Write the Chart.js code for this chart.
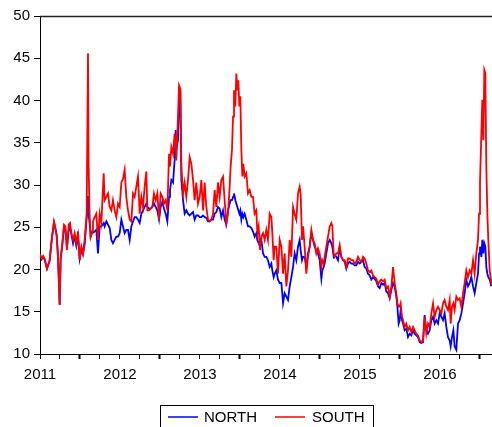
<!DOCTYPE html>
<html><head><meta charset="utf-8">
<script src="https://cdn.jsdelivr.net/npm/chart.js@4.4.1/dist/chart.umd.min.js"></script>
<style>html,body{margin:0;padding:0;background:#fff;overflow:hidden}#wrap{width:492px;height:427px;position:relative}</style>
</head><body><div id="wrap"><canvas id="c" width="492" height="427"></canvas></div>
<script>
const seriesNames = ['NORTH', 'SOUTH'];
const yTicks = [10, 15, 20, 25, 30, 35, 40, 45, 50];
const yearLabels = [2011, 2012, 2013, 2014, 2015, 2016];

const dates = [
2011.000,2011.020,2011.040,2011.060,2011.087,2011.120,2011.150,2011.175,2011.190,2011.208,
2011.225,2011.246,2011.258,2011.275,2011.300,2011.317,2011.337,2011.358,2011.375,2011.392,
2011.413,2011.433,2011.454,2011.475,2011.496,2011.517,2011.537,2011.558,2011.583,2011.600,
2011.608,2011.620,2011.633,2011.650,2011.662,2011.683,2011.704,2011.725,2011.746,2011.767,
2011.796,2011.808,2011.829,2011.850,2011.871,2011.892,2011.912,2011.933,2011.954,2011.975,
2011.996,2012.017,2012.037,2012.058,2012.079,
2012.100,2012.121,2012.142,2012.163,2012.183,2012.204,2012.225,2012.246,2012.267,2012.288,
2012.308,2012.329,2012.342,2012.363,2012.383,2012.404,2012.425,2012.446,2012.467,2012.488,
2012.508,2012.529,2012.550,2012.571,2012.592,2012.613,2012.625,2012.642,2012.663,2012.683,
2012.696,2012.704,2012.725,2012.738,2012.754,2012.767,2012.788,2012.808,2012.829,2012.850,
2012.871,2012.892,2012.913,2012.933,2012.954,2012.975,2012.996,2013.017,2013.038,2013.058,
2013.079,2013.100,2013.121,2013.142,2013.163,2013.183,2013.204,
2013.225,2013.246,2013.267,2013.288,2013.308,2013.329,2013.350,2013.371,2013.383,2013.400,
2013.413,2013.425,2013.442,2013.454,2013.467,2013.479,2013.492,2013.504,2013.517,2013.529,
2013.542,2013.558,2013.579,2013.600,2013.621,2013.642,2013.663,2013.683,2013.704,2013.717,
2013.733,2013.750,2013.767,2013.788,2013.808,2013.829,2013.850,2013.871,2013.892,2013.904,
2013.921,2013.933,2013.954,2013.975,2013.996,2014.017,2014.038,2014.058,2014.079,2014.100,
2014.121,2014.142,2014.163,2014.183,2014.204,2014.225,2014.246,2014.258,2014.275,2014.288,
2014.308,2014.329,
2014.350,2014.371,2014.392,2014.413,2014.433,2014.454,2014.475,2014.496,2014.517,2014.529,
2014.546,2014.558,2014.579,2014.600,2014.621,2014.642,2014.654,2014.671,2014.683,2014.704,
2014.725,2014.746,2014.767,2014.788,2014.808,2014.829,2014.850,2014.871,2014.892,2014.913,
2014.933,2014.954,2014.975,2014.996,2015.017,2015.038,2015.058,2015.079,2015.100,2015.121,
2015.142,2015.163,2015.183,2015.204,2015.225,2015.246,2015.267,2015.288,2015.308,2015.329,
2015.350,2015.371,2015.392,2015.413,2015.433,2015.454,2015.467,2015.483,
2015.496,2015.508,2015.525,2015.538,2015.558,2015.579,2015.600,2015.621,2015.642,2015.663,
2015.683,2015.704,2015.725,2015.746,2015.767,2015.788,2015.808,2015.829,2015.850,2015.871,
2015.892,2015.913,2015.933,2015.954,2015.975,2015.996,2016.017,2016.038,2016.058,2016.079,
2016.100,2016.121,2016.133,2016.150,2016.167,2016.183,2016.204,2016.225,2016.246,2016.267,
2016.288,2016.308,2016.329,2016.350,2016.371,2016.392,2016.413,2016.433,2016.454,2016.475,
2016.488,2016.500,2016.517,2016.529,2016.542,2016.554,2016.567,2016.579,2016.592,2016.604,
2016.621,2016.642
];

const north = [
21.6,21.2,21.5,21.1,20.1,21.0,23.8,25.5,24.9,24.2,
21.5,15.8,21.3,22.5,25.0,24.8,22.6,24.6,25.0,24.2,
23.1,23.9,22.8,24.0,21.3,22.4,21.8,22.9,26.0,28.7,
26.5,25.5,23.9,24.3,24.3,24.5,24.7,21.9,25.1,25.1,
25.5,25.1,25.7,25.3,24.9,23.5,23.1,23.5,23.9,23.9,
24.3,25.9,25.1,24.3,24.7,
24.7,23.5,25.1,25.7,26.2,26.2,25.9,25.5,26.6,27.0,
27.4,27.8,27.4,27.2,27.2,27.4,27.8,27.4,27.0,25.9,
27.4,28.0,27.2,26.6,25.7,28.6,29.4,30.6,30.3,33.0,
36.5,34.2,35.3,39.3,41.2,30.6,28.2,26.6,27.0,26.6,
26.4,26.6,26.8,25.9,26.4,26.4,26.2,26.2,26.4,26.2,
26.1,25.7,25.7,25.9,25.9,26.6,26.8,
27.4,27.2,26.2,27.0,25.9,25.3,27.0,27.8,28.2,28.2,
28.6,29.0,28.2,27.8,27.4,27.0,26.6,27.0,25.9,26.6,
26.2,26.6,25.9,25.1,25.1,24.9,24.5,23.9,24.3,23.5,
23.1,22.7,23.5,21.9,21.5,21.5,21.1,20.3,20.7,19.9,
19.1,19.5,19.9,18.8,18.4,18.4,16.0,17.2,16.8,16.4,
18.0,19.1,20.3,21.9,21.1,22.7,23.5,22.3,21.1,21.5,
21.5,20.3,
21.9,22.7,24.3,23.5,22.7,22.3,21.9,21.1,18.9,19.9,
20.3,20.7,21.9,23.1,23.5,23.1,22.7,21.5,21.7,21.5,
21.1,22.5,21.5,21.1,20.9,20.1,20.7,20.9,20.7,20.7,
20.5,20.5,20.9,20.7,20.9,21.1,20.3,20.1,19.5,19.3,
18.8,19.1,18.9,18.6,18.0,17.8,18.4,18.2,18.4,17.4,
17.2,16.6,17.6,18.4,18.0,16.8,15.6,13.6,
14.0,15.2,14.0,13.6,12.8,13.0,12.0,12.4,12.2,12.8,
12.4,12.2,12.0,11.4,11.3,11.4,14.6,12.8,12.4,12.8,
14.0,14.4,13.6,14.0,13.6,14.8,14.4,14.0,14.8,13.2,
12.0,11.6,10.9,12.0,12.8,10.9,10.5,13.6,14.0,14.8,
16.0,17.2,18.8,18.0,18.4,19.1,18.0,17.2,18.4,19.5,
21.9,22.7,21.5,23.5,21.9,23.1,22.7,20.3,19.5,19.1,
18.8,18.0
];

const south = [
21.8,21.3,21.6,21.2,20.1,21.1,23.9,25.7,25.1,23.9,
21.5,15.8,21.5,22.7,25.3,25.1,22.3,25.3,25.5,24.3,
23.5,24.3,23.1,24.5,21.1,22.7,21.9,23.5,26.6,45.6,
32.2,26.6,23.9,24.5,25.7,26.2,26.6,23.5,26.6,25.5,
31.4,28.2,28.6,29.0,27.4,27.0,28.2,27.0,26.2,27.8,
27.4,30.3,30.7,31.8,28.6,
27.0,25.9,25.7,29.0,28.6,29.8,31.0,26.6,28.6,27.4,
29.8,31.6,27.0,27.0,27.2,27.4,29.0,28.2,29.0,25.9,
29.0,28.6,27.8,28.2,27.0,33.7,32.2,34.5,33.7,36.1,
35.0,32.9,38.1,41.8,41.4,32.2,29.0,30.3,28.6,30.6,
33.3,32.5,30.6,28.2,30.3,27.8,28.6,30.6,27.0,30.3,
27.4,25.9,25.7,25.9,26.6,29.4,27.4,
30.3,28.6,30.6,31.0,28.2,25.5,26.6,29.8,32.2,34.2,
38.1,41.2,39.3,43.2,41.2,42.4,39.3,40.5,34.2,31.0,
32.5,31.0,31.4,29.0,29.4,28.6,28.6,26.6,27.0,24.3,
25.1,22.3,23.9,24.3,23.5,24.7,23.5,26.6,26.2,24.3,
21.1,22.7,22.7,19.5,23.5,22.7,19.5,21.9,18.0,19.9,
23.5,21.5,27.4,26.6,25.9,29.0,29.8,29.0,23.5,25.1,
22.7,19.5,
21.5,22.7,24.7,23.5,23.1,21.9,22.5,21.9,20.3,21.1,
20.7,21.5,22.7,23.9,25.1,25.5,25.1,21.9,21.5,21.9,
21.9,22.9,21.5,21.1,21.1,20.3,21.3,21.3,21.1,21.1,
20.7,20.9,21.5,21.1,20.9,21.5,21.3,20.7,19.9,19.7,
19.9,19.3,19.1,18.9,18.2,18.6,18.8,18.6,18.8,17.8,
18.0,16.8,18.0,20.3,18.4,17.2,16.0,15.6,
15.6,16.0,14.4,14.0,13.2,13.6,12.8,13.2,12.6,13.2,
12.8,12.4,12.2,11.6,11.4,11.6,14.4,12.4,13.6,13.2,
14.8,16.0,14.4,15.2,15.6,15.2,14.8,16.0,16.4,15.6,
15.2,16.4,13.6,15.6,16.0,15.2,16.8,16.4,16.6,15.6,
17.2,18.4,19.9,19.1,19.9,19.5,21.1,19.5,21.9,23.5,
26.6,30.3,36.1,40.1,35.3,43.6,43.2,32.2,26.6,23.5,
19.9,18.4
];

const FONT = 'Liberation Sans, Arial, sans-serif';
const near = (v, t) => Math.abs(v - t) < 1e-6;
const isYear = v => near(v, Math.round(v));
const isHalf = v => near(v - Math.floor(v), 0.5);

const frame = {
  id: 'frame',
  afterDatasetsDraw(chart) {
    const {ctx, chartArea: a} = chart;
    ctx.save();
    ctx.strokeStyle = '#222';
    ctx.lineWidth = 1.5;
    ctx.beginPath();
    ctx.moveTo(a.left, a.top + 0.5);
    ctx.lineTo(a.right, a.top + 0.5);
    ctx.stroke();
    ctx.restore();
  },
  afterDraw(chart) {
    const ctx = chart.ctx;
    ctx.save();
    ctx.strokeStyle = '#000';
    ctx.lineWidth = 1;
    ctx.strokeRect(160.5, 405.5, 213, 30);
    const items = [
      {ds: chart.data.datasets[0], lx: 168, tx: 204},
      {ds: chart.data.datasets[1], lx: 275, tx: 312}
    ];
    ctx.font = '15px ' + FONT;
    ctx.textBaseline = 'alphabetic';
    ctx.textAlign = 'left';
    items.forEach(it => {
      ctx.strokeStyle = it.ds.borderColor;
      ctx.lineWidth = 1.5;
      ctx.beginPath();
      ctx.moveTo(it.lx, 417);
      ctx.lineTo(it.lx + 30, 417);
      ctx.stroke();
      ctx.fillStyle = '#000';
      ctx.fillText(it.ds.label, it.tx, 422);
    });
    ctx.restore();
  }
};

new Chart(document.getElementById('c'), {
  type: 'line',
  data: {
    datasets: [
      {label: seriesNames[0], data: dates.map((d, i) => ({x: d, y: north[i]})),
       borderColor: '#0000ff', borderWidth: 1.8, pointRadius: 0, fill: false, tension: 0, order: 1},
      {label: seriesNames[1], data: dates.map((d, i) => ({x: d, y: south[i]})),
       borderColor: '#ff0000', borderWidth: 1.8, pointRadius: 0, fill: false, tension: 0, order: 0}
    ]
  },
  options: {
    responsive: false,
    devicePixelRatio: 1,
    animation: false,
    layout: {padding: {top: 16, right: 0, bottom: 0, left: 0}},
    plugins: {legend: {display: false}, tooltip: {enabled: false}},
    scales: {
      x: {
        type: 'linear',
        min: yearLabels[0],
        max: 2016.65,
        afterFit: s => { s.height = 73; },
        afterBuildTicks: s => {
          const t = [];
          for (let y = yearLabels[0]; y <= 2016.65 + 1e-9; y += 0.25) t.push({value: y});
          s.ticks = t;
        },
        ticks: {
          autoSkip: false, maxRotation: 0, minRotation: 0, padding: 7,
          color: '#000', font: {family: FONT, size: 15},
          callback: v => isYear(v) ? String(Math.round(v)) : ''
        },
        grid: {
          drawOnChartArea: false, drawTicks: true, tickLength: 5, tickColor: '#000',
          tickWidth: c => (c.tick && isHalf(c.tick.value)) ? 2 : 1
        },
        border: {display: true, color: '#000', width: 1}
      },
      y: {
        min: yTicks[0],
        max: yTicks[yTicks.length - 1],
        afterFit: s => { s.width = 40; },
        afterBuildTicks: s => { s.ticks = yTicks.map(v => ({value: v})); },
        ticks: {padding: 4, color: '#000', font: {family: FONT, size: 15}},
        grid: {drawOnChartArea: false, drawTicks: true, tickLength: 6, tickColor: '#000'},
        border: {display: true, color: '#000', width: 1}
      }
    }
  },
  plugins: [frame]
});
</script>
</body></html>
